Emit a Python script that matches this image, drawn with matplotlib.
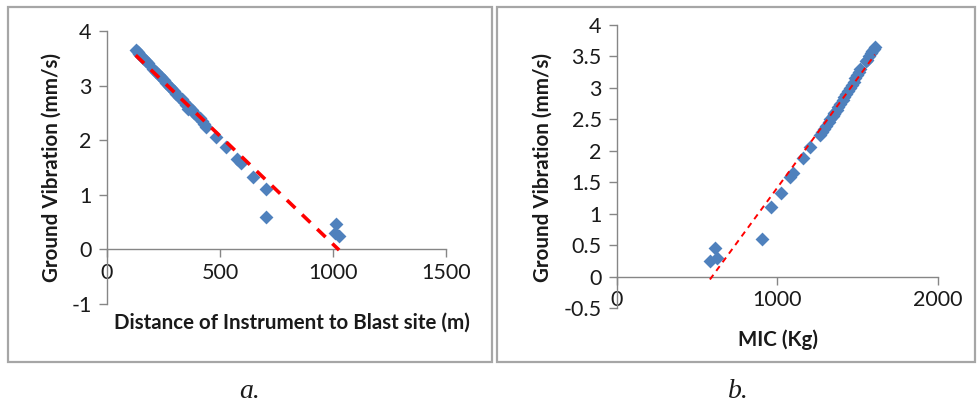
import numpy as np
import matplotlib
matplotlib.use("Agg")
import matplotlib.pyplot as plt
from matplotlib.patches import Rectangle

# Ground vibration (PPV, mm/s) shared by both panels
ppv = [3.65, 3.62, 3.58, 3.55, 3.50, 3.45, 3.42, 3.30, 3.25, 3.20, 3.15, 3.10,
       3.05, 3.00, 2.95, 2.90, 2.85, 2.80, 2.75, 2.70, 2.65, 2.60, 2.58, 2.55,
       2.50, 2.45, 2.40, 2.35, 2.30, 2.25, 2.06, 1.88, 1.65, 1.58, 1.33, 1.10,
       0.60, 0.46, 0.30, 0.24]
# Distance of instrument to blast site (m)
distance = [127, 135, 143, 150, 160, 172, 180, 205, 218, 230, 240, 252,
            262, 275, 285, 297, 307, 318, 330, 340, 350, 362, 358, 375,
            385, 398, 410, 420, 430, 440, 484, 526, 575, 595, 647, 703,
            703, 1014, 1008, 1027]
# Maximum instantaneous charge (kg)
mic = [1607, 1600, 1590, 1582, 1570, 1558, 1550, 1514, 1505, 1495, 1485, 1475,
       1462, 1450, 1440, 1428, 1415, 1405, 1392, 1380, 1368, 1355, 1350, 1343,
       1330, 1318, 1305, 1292, 1280, 1266, 1202, 1161, 1094, 1078, 1022, 960,
       901, 611, 621, 579]

xticks_a = [0, 500, 1000, 1500]
yticks_a = [-1, 0, 1, 2, 3, 4]
xticks_b = [0, 1000, 2000]
yticks_b = [-0.5, 0, 0.5, 1, 1.5, 2, 2.5, 3, 3.5, 4]

FONT = ['Lato', 'DejaVu Sans']
plt.rcParams['font.family'] = FONT

W, H = 978, 407
fig = plt.figure(figsize=(W / 100, H / 100), dpi=100)

def fx(px):
    return px / W

def fy(py):
    return 1 - py / H

# panel frames
for (x0, x1) in [(8, 492), (497, 975)]:
    fig.patches.append(Rectangle((fx(x0), fy(362)), fx(x1 - x0), (362 - 7) / H,
                                 transform=fig.transFigure, fill=False,
                                 edgecolor='#A6A6A6', lw=1.6))

axis_col = '#868686'
marker_col = '#4F81BD'

def style(ax, xt, yt, xlim, ylim):
    ax.set_xlim(*xlim)
    ax.set_ylim(*ylim)
    ax.set_xticks(xt)
    ax.set_yticks(yt)
    ax.set_xticklabels([f"{v:g}" for v in xt])
    ax.set_yticklabels([f"{v:g}" for v in yt])
    for s in ['top', 'right']:
        ax.spines[s].set_visible(False)
    ax.spines['bottom'].set_position(('data', 0))
    for s in ['left', 'bottom']:
        ax.spines[s].set_color(axis_col)
        ax.spines[s].set_linewidth(1.0)
    ax.tick_params(axis='both', direction='out', length=6, width=1.0,
                   color=axis_col, labelsize=15.5, labelcolor='#1a1a1a')
    ax.tick_params(axis='x', pad=4)
    ax.tick_params(axis='y', pad=5)
    ax.patch.set_alpha(0)

# panel a
axa = fig.add_axes([fx(107), fy(304), fx(446 - 107), (304 - 31) / H])
style(axa, xticks_a, yticks_a, (0, 1500), (-1, 4))
axa.scatter(distance, ppv, marker='D', s=50, color=marker_col, zorder=3,
            linewidths=0)
ka, ba = np.polyfit(distance, ppv, 1)
xa = np.array([min(distance), max(distance)])
axa.plot(xa, ka * xa + ba, color='#FF0000', ls=(0, (3.2, 2.6)), lw=2.6, zorder=4)

# panel b
axb = fig.add_axes([fx(617), fy(308), fx(938 - 617), (308 - 25) / H])
style(axb, xticks_b, yticks_b, (0, 2000), (-0.5, 4))
axb.scatter(mic, ppv, marker='D', s=50, color=marker_col, zorder=3,
            linewidths=0)
kb, bb = np.polyfit(mic, ppv, 1)
xb = np.array([min(mic), max(mic)])
axb.plot(xb, kb * xb + bb, color='#FF0000', ls=(0, (3, 2.5)), lw=1.4, zorder=4)

# axis titles
lab = dict(fontsize=14.8, fontweight='bold', color='#1a1a1a')
fig.text(fx(52), fy(168), 'Ground Vibration (mm/s)', rotation=90,
         ha='center', va='center', **lab)
fig.text(fx(543), fy(168), 'Ground Vibration (mm/s)', rotation=90,
         ha='center', va='center', **lab)
fig.text(fx(292), fy(323), 'Distance of Instrument to Blast site (m)',
         ha='center', va='center', **lab)
fig.text(fx(778), fy(340), 'MIC (Kg)', ha='center', va='center', **lab)

# captions
cap = dict(fontsize=20, fontstyle='italic', family=['Liberation Serif', 'DejaVu Serif'],
           color='#1a1a1a')
fig.text(fx(250), fy(392), 'a.', ha='center', va='center', **cap)
fig.text(fx(738), fy(392), 'b.', ha='center', va='center', **cap)

fig.savefig('out.png', dpi=100)
